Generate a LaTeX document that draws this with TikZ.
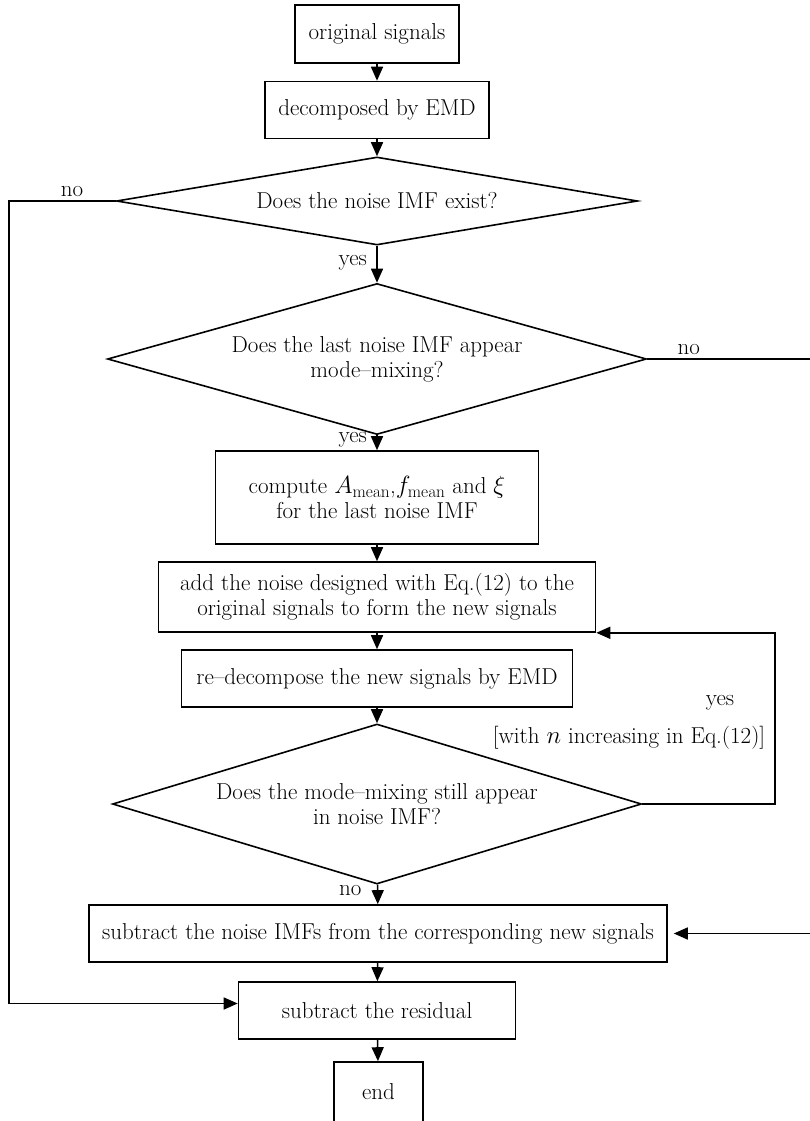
\documentclass[tikz,border=0pt]{standalone}
\usepackage{amsmath,amsfonts,amssymb}
\usepackage{tikz}
\usetikzlibrary{shapes.geometric,calc,arrows.meta}

\begin{document}
\begin{tikzpicture}[->,>={Triangle[width=12pt,length=14pt]},x=1pt,y=-1pt,
                    line width=1.6pt,
                    every node/.style={font=\fontsize{23}{25}\selectfont},
                    box/.style={shape=rectangle,draw,align=center,inner sep=0pt},
                    ask/.style={shape=diamond,draw,align=center,inner sep=0pt,aspect=3.5}]

  \useasboundingbox (0,0) rectangle (809,1121);

  \node[box,minimum width=164pt,minimum height=58pt] (S) at (377,34)    {original signals};
  \node[box,minimum width=224pt,minimum height=57pt] (D) at (377,110)   {decomposed by EMD};
  \node[ask,minimum width=521pt,minimum height=88pt] (Q1) at (377,201)  {Does the noise IMF exist?};
  \node[ask,minimum width=539pt,minimum height=151pt] (Q2) at (377,359) {Does the last noise IMF appear\\mode--mixing?};
  \node[box,minimum width=323pt,minimum height=93pt] (C) at (377,497.5) {compute $A_{\mathrm{mean}}$,$f_{\mathrm{mean}}$ and $\xi$\\for the last noise IMF};
  \node[box,minimum width=437pt,minimum height=70pt] (N) at (377,597)   {add the noise designed with Eq.(12) to the\\original signals to form the new signals};
  \node[box,minimum width=391pt,minimum height=57pt] (P) at (377,678.5) {re--decompose the new signals by EMD};
  \node[ask,minimum width=529pt,minimum height=160pt] (Q3) at (377,804) {Does the mode--mixing still appear\\in noise IMF?};
  \node[box,minimum width=578pt,minimum height=57pt] (M) at (378,933.5) {subtract the noise IMFs from the corresponding new signals};
  \node[box,minimum width=277pt,minimum height=57pt] (R) at (377,1010.5) {subtract the residual};
  \node[box,minimum width=89pt,minimum height=60pt] (E) at (378.5,1092)  {end};

  \coordinate (L) at (9,201);
  \coordinate (T) at (813,359);
  \coordinate (Y) at (775,804);

  \path (S) edge (D)
        (D) edge (Q1)
        (Q1) edge node [left,pos=0.45,xshift=-6pt] {yes} (Q2)
        (Q2) edge node [left,pos=0.3,xshift=-6pt] {yes} (C)
        (Q3) edge node [left,pos=0.3,xshift=-12pt] {no} (M)
        (C) edge (N)
        (N) edge (P)
        (P) edge (Q3)
        (M) edge (R)
        (R) edge (E);

  \draw (Q1.west) -- node [above,pos=0.41] {no} (L) |- ($(R.west)+(0,-7)$);
  \draw[shorten >=6pt] (Q2.east) -- node [above,pos=0.25] {no} (T) |- (M.east);
  \draw (Q3.east) -- (Y) |- (N.south east);

  \node (YL) at (720,703) {yes};
  \node (WL) at (629,738) {[with $n$ increasing in Eq.(12)]};
\end{tikzpicture}
\end{document}
